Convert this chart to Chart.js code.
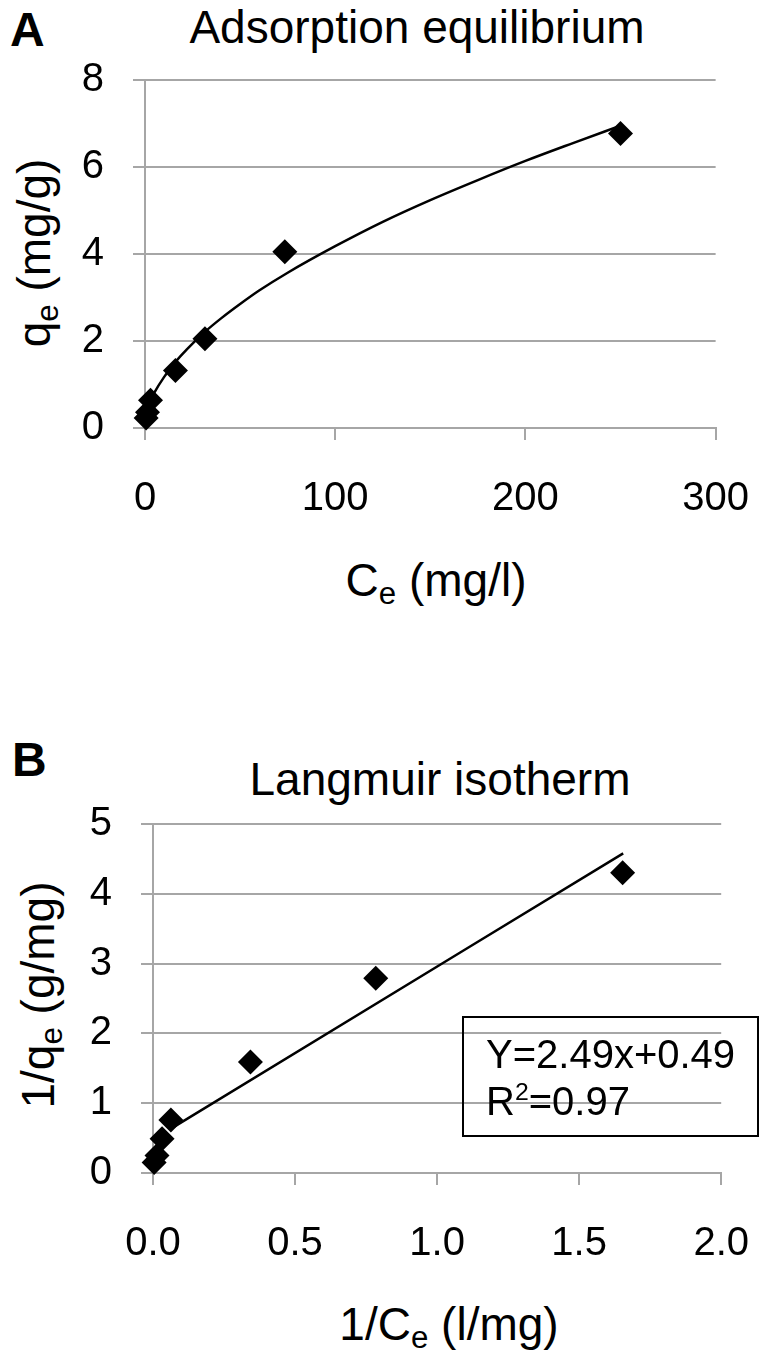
<!DOCTYPE html>
<html>
<head>
<meta charset="utf-8">
<script src="https://cdn.jsdelivr.net/npm/chart.js@4.4.1/dist/chart.umd.min.js"></script>
<style>
    body { margin: 0; background: #fff; }
    #page { position: relative; width: 784px; height: 1363px; overflow: hidden;
            font-family: "Liberation Sans", Arial, sans-serif; color: #000; }
    canvas { position: absolute; left: 0; }
    .t { position: absolute; white-space: nowrap; line-height: 1; }
    .t sub { font-size: 0.68em; line-height: 0; vertical-align: -0.25em; }
    .t sup { font-size: 0.62em; line-height: 0; vertical-align: 0.62em; }
    .big { font-size: 46px; }
    .mid { font-size: 40px; }
    .letter { font-size: 48px; font-weight: bold; }
    .rot { transform: translate(-50%, -50%) rotate(-90deg); }
    .ctr { transform: translateX(-50%); }
    #eqBox { position: absolute; left: 462px; top: 1016px; width: 293px; height: 117px;
             border: 2px solid #000; }
</style>
</head>
<body>
<div id="page">
    <div class="t letter" style="left:10px; top:6px;">A</div>
    <div class="t big ctr" style="left:417px; top:4px;">Adsorption equilibrium</div>
    <div class="t big rot" style="left:34px; top:253px;">q<sub>e</sub> (mg/g)</div>
    <div class="t big ctr" style="left:436px; top:557px;">C<sub>e</sub> (mg/l)</div>
    <canvas id="chartA" width="784" height="540" style="top:0;"></canvas>

    <div class="t letter" style="left:12px; top:736px;">B</div>
    <div class="t big ctr" style="left:440px; top:756px;">Langmuir isotherm</div>
    <div class="t big rot" style="left:38px; top:995px;">1/q<sub>e</sub> (g/mg)</div>
    <div class="t big ctr" style="left:449px; top:1301px;">1/C<sub>e</sub> (l/mg)</div>
    <canvas id="chartB" width="784" height="663" style="top:700px;"></canvas>
    <div id="eqBox"></div>
    <div class="t mid" style="left:486px; top:1034px;">Y=2.49x+0.49</div>
    <div class="t mid" style="left:486px; top:1081px;">R<sup>2</sup>=0.97</div>
</div>

<script>
// ---- Data ----

// A: adsorption equilibrium (Ce in mg/l, qe in mg/g)
const ceValues = [0.6, 1.3, 2.9, 16, 31.5, 73.5, 250];
const qeValues = [0.23, 0.36, 0.64, 1.32, 2.05, 4.05, 6.77];
// fitted curve, read at points along the drawn line
const curveCe = [0.6, 1.3, 3, 5, 10, 16, 22, 31.5, 40, 50, 60, 75, 100, 125, 150, 175, 200, 225, 250];
const curveQe = [0.25, 0.39, 0.64, 0.82, 1.17, 1.52, 1.81, 2.21, 2.52, 2.85, 3.16, 3.57, 4.18, 4.74, 5.24, 5.7, 6.14, 6.55, 6.95];
const ticksA_x = [0, 100, 200, 300];
const ticksA_y = [0, 2, 4, 6, 8];

// B: Langmuir linearisation (1/Ce in l/mg, 1/qe in g/mg)
const invCeValues = [0.004, 0.014, 0.032, 0.063, 0.343, 0.784, 1.653];
const invQeValues = [0.15, 0.25, 0.49, 0.76, 1.59, 2.79, 4.30];
// regression line end points as drawn
const lineInvCe = [0.065, 1.655];
const lineInvQe = [0.64, 4.58];
const ticksB_x = [0, 0.5, 1, 1.5, 2];
const ticksB_y = [0, 1, 2, 3, 4, 5];

const FONT = '"Liberation Sans", Arial, sans-serif';
const GRID = '#a6a6a6';

function toPoints(xs, ys) {
    return xs.map((x, i) => ({ x: x, y: ys[i] }));
}

function makeScale(ticks, fmt, isX, fixedSize) {
    return {
        type: 'linear',
        min: ticks[0],
        max: ticks[ticks.length - 1],
        afterBuildTicks: s => { s.ticks = ticks.map(v => ({ value: v })); },
        afterFit: s => {
            if (isX) s.height = fixedSize; else s.width = fixedSize;
        },
        ticks: {
            color: '#000',
            padding: isX ? 35 : 29,
            font: { size: 40, family: FONT },
            callback: v => fmt(v),
        },
        grid: {
            color: GRID,
            lineWidth: 2,
            tickLength: 12,
            drawOnChartArea: !isX,
        },
        border: { color: GRID, width: 2 },
    };
}

function buildChart(canvasId, pts, fit, scales, pad) {
    const ctx = document.getElementById(canvasId);
    return new Chart(ctx, {
        type: 'scatter',
        data: {
            datasets: [{
                type: 'scatter',
                data: pts,
                pointStyle: 'rectRot',
                pointRadius: 12.5,
                backgroundColor: '#000',
                borderColor: '#000',
                borderWidth: 0,
                clip: false,
                order: 1,
            }, {
                type: 'line',
                data: fit,
                showLine: true,
                fill: false,
                borderColor: '#000',
                borderWidth: 2.5,
                pointRadius: 0,
                cubicInterpolationMode: 'monotone',
                clip: false,
                order: 2,
            }]
        },
        options: {
            responsive: false,
            animation: false,
            devicePixelRatio: 1,
            layout: { padding: pad, autoPadding: false },
            plugins: {
                legend: { display: false },
                tooltip: { enabled: false },
            },
            scales: scales,
        }
    });
}

// Panel A: plot area 145..729 x 80..428
buildChart('chartA',
    toPoints(ceValues, qeValues),
    toPoints(curveCe, curveQe),
    {
        x: makeScale(ticksA_x, v => String(v), true, 540 - 428),
        y: makeScale(ticksA_y, v => String(v), false, 145),
    },
    { top: 80, right: 784 - 729, left: 0, bottom: 0 });

// Panel B: plot area 153..744 x 824..1173 (canvas starts at 700)
buildChart('chartB',
    toPoints(invCeValues, invQeValues),
    toPoints(lineInvCe, lineInvQe),
    {
        x: makeScale(ticksB_x, v => v.toFixed(1), true, 663 - (1173 - 700)),
        y: makeScale(ticksB_y, v => String(v), false, 153),
    },
    { top: 824 - 700, right: 784 - 744, left: 0, bottom: 0 });
</script>
</body>
</html>
